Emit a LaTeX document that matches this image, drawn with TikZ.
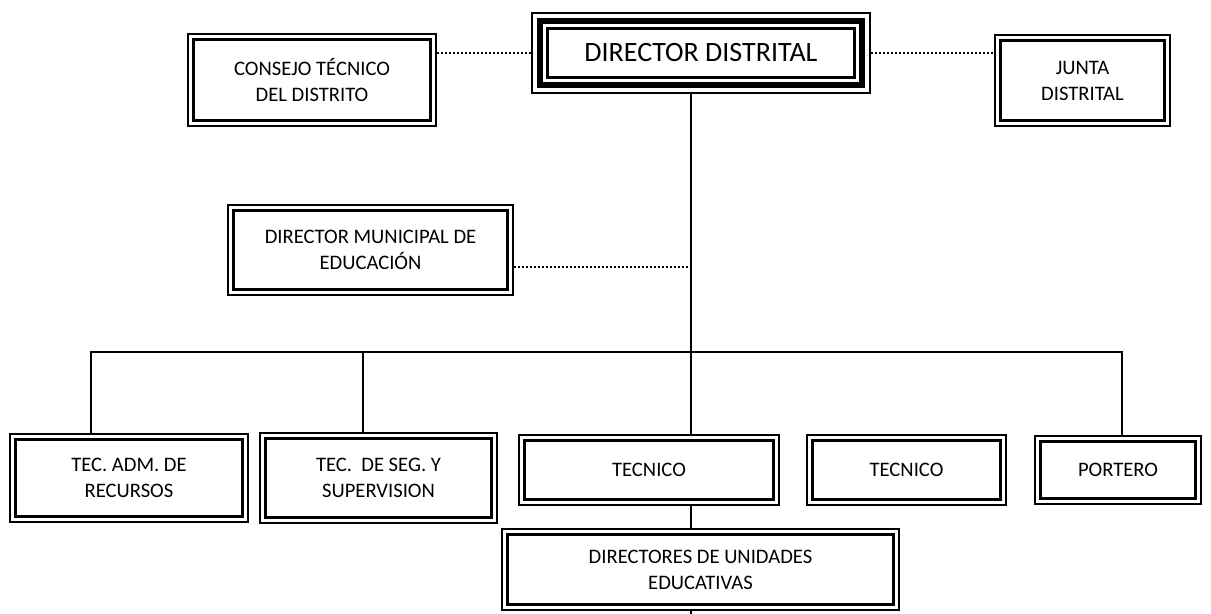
\documentclass[tikz,border=0pt]{standalone}
\usepackage{fontspec}
\setmainfont{Carlito}
\begin{document}
\begin{tikzpicture}[x=0.5pt,y=-0.5pt,
  box/.style={draw, line width=0.9pt, rectangle, align=center, inner sep=0pt,
    font=\fontsize{10.3}{13}\selectfont,
    path picture={\draw[line width=1.7pt]
      ([shift={(2.8pt,2.8pt)}]path picture bounding box.south west) rectangle
      ([shift={(-2.8pt,-2.8pt)}]path picture bounding box.north east);}},
  tribox/.style={draw, line width=0.9pt, rectangle, align=center, inner sep=0pt,
    font=\fontsize{14}{17}\selectfont,
    path picture={\draw[line width=3pt]
      ([shift={(4pt,4pt)}]path picture bounding box.south west) rectangle
      ([shift={(-4pt,-4pt)}]path picture bounding box.north east);
      \draw[line width=1.2pt]
      ([shift={(7.7pt,7.7pt)}]path picture bounding box.south west) rectangle
      ([shift={(-7.7pt,-7.7pt)}]path picture bounding box.north east);}},
  link/.style={line width=0.9pt},
  dots/.style={line width=1pt, dash pattern=on 1pt off 1pt}
]
\useasboundingbox (0,0) rectangle (1211,614);

\node[tribox, minimum width=169pt, minimum height=40pt] (dd) at (701,53) {DIRECTOR DISTRITAL};
\node[box, minimum width=124pt, minimum height=46pt] (consejo) at (312,80) {CONSEJO TÉCNICO\\DEL DISTRITO};
\node[box, minimum width=87.5pt, minimum height=45.5pt] (junta) at (1082.5,80.5) {JUNTA\\DISTRITAL};
\node[box, minimum width=142.5pt, minimum height=45pt] (dm) at (370.5,250) {DIRECTOR MUNICIPAL DE\\EDUCACIÓN};

\node[box, minimum width=119pt, minimum height=44pt] (tecadm) at (129,478) {TEC. ADM. DE\\RECURSOS};
\node[box, minimum width=118.5pt, minimum height=45pt] (tecseg) at (378.5,478) {TEC.\ \ DE SEG. Y\\SUPERVISION};
\node[box, minimum width=130pt, minimum height=35pt] (tec1) at (649,470) {TECNICO};
\node[box, minimum width=99.5pt, minimum height=35pt] (tec2) at (906.5,470) {TECNICO};
\node[box, minimum width=83pt, minimum height=34pt] (portero) at (1118,470) {PORTERO};
\node[box, minimum width=198.5pt, minimum height=40.5pt] (dir) at (700.5,569.5) {DIRECTORES DE UNIDADES\\EDUCATIVAS};

\coordinate (spine) at (691,352);

% dotted staff links
\draw[dots] (dd.west) -- (dd.west -| consejo.east);
\draw[dots] (dd.east) -- (dd.east -| junta.west);
\draw[dots] ([yshift=-8.5pt]dm.east) -- ([yshift=-8.5pt]dm.east -| spine);

% main line
\draw[link] (spine |- dd.south) -- (spine |- tec1.north);
\draw[link] (spine |- tec1.south) -- (spine |- dir.north);
\draw[link] (spine |- dir.south) -- ++(0,4);
\draw[link] ([xshift=-19pt]tecadm.north) |- (spine) -| ([xshift=2pt]portero.north);
\draw[link] ([xshift=-7.75pt]tecseg.north) -- ([xshift=-7.75pt]tecseg.north |- spine);
\end{tikzpicture}
\end{document}
